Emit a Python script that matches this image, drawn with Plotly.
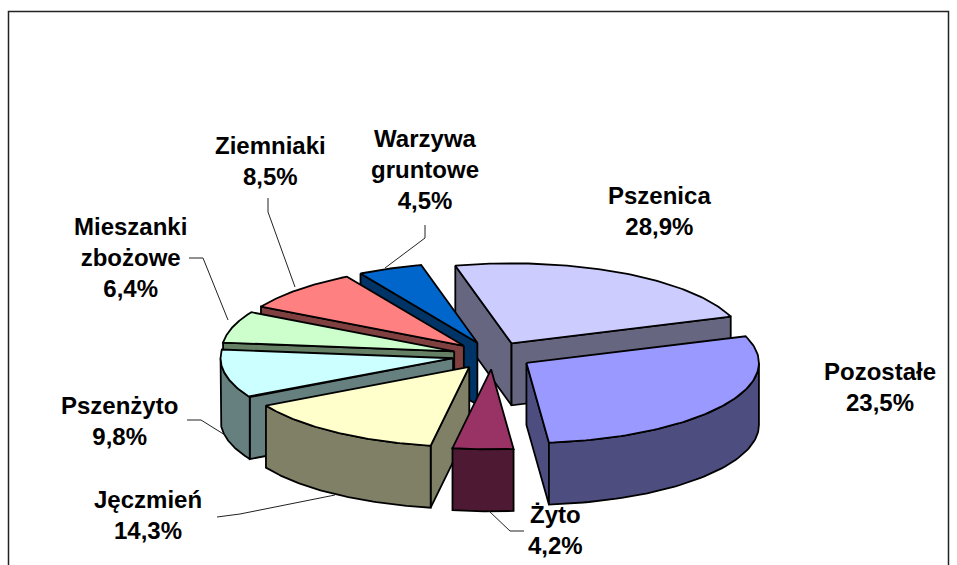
import math
import numpy as np
import plotly.graph_objects as go

# --- data ---
categories = ["Pszenica", "Pozostałe", "Żyto", "Jęczmień", "Pszenżyto",
              "Mieszanki zbożowe", "Ziemniaki", "Warzywa gruntowe"]
label_percent = [28.9, 23.5, 4.2, 14.3, 9.8, 6.4, 8.5, 4.5]
# the angular size of the first two slices in the picture is swapped relative to their labels
drawn_share = [23.5, 28.9, 4.2, 14.3, 9.8, 6.4, 8.5, 4.5]

# --- styles ---
top_colors = ["#CCCCFF", "#9999FF", "#993366", "#FFFFCC", "#CCFFFF", "#CCFFCC", "#FF8080", "#0066CC"]
side_colors = ["#666680", "#4D4D80", "#4D1933", "#808066", "#668080", "#668066", "#804040", "#003366"]
paint_order = [0, 7, 6, 5, 4, 3, 2, 1]

label_text = {
    "Pszenica": "Pszenica", "Pozostałe": "Pozostałe", "Żyto": "Żyto", "Jęczmień": "Jęczmień",
    "Pszenżyto": "Pszenżyto", "Mieszanki zbożowe": "Mieszanki<br>zbożowe",
    "Ziemniaki": "Ziemniaki", "Warzywa gruntowe": "Warzywa<br>gruntowe",
}
label_pos = {  # centre x, centre y of each text block
    "Pszenica": (659, 211), "Pozostałe": (880, 387), "Żyto": (555, 530), "Jęczmień": (148, 515),
    "Pszenżyto": (119, 421), "Mieszanki zbożowe": (130, 257), "Ziemniaki": (270, 161),
    "Warzywa gruntowe": (425, 169),
}
leaders = [
    ([268, 268, 295], [198, 212, 287]),
    ([425, 425, 385], [225, 238, 268]),
    ([189, 203, 228], [258, 258, 320]),
    ([187, 201, 225], [420, 420, 435]),
    ([217, 240, 335], [517, 514, 495]),
    ([489, 510, 524], [511, 531, 531]),
]

CX, CY, A, B, DEPTH, EXPLODE, START = 492.5, 355.5, 232.5, 80, 62, 0.173, -14.0


def ell(theta_deg, ox, oy):
    t = np.radians(theta_deg)
    return ox + A * np.sin(t), oy - B * np.cos(t)


fig = go.Figure()


def poly(xs, ys, color):
    fig.add_trace(go.Scatter(x=list(xs), y=list(ys), mode="lines", fill="toself", fillcolor=color,
                             line=dict(color="black", width=1.8), hoverinfo="skip", showlegend=False))


total = sum(drawn_share)
edges = [START]
for s in drawn_share:
    edges.append(edges[-1] + 360 * s / total)

for i in paint_order:
    t1, t2 = edges[i], edges[i + 1]
    mid = (t1 + t2) / 2
    ax, ay = ell(mid, CX, CY)
    ox = CX + EXPLODE * (ax - CX)
    oy = CY + EXPLODE * (ay - CY)
    sx1, sy1 = ell(t1, ox, oy)
    sx2, sy2 = ell(t2, ox, oy)
    if math.sin(math.radians(t1)) < 0:
        poly([ox, sx1, sx1, ox, ox], [oy, sy1, sy1 + DEPTH, oy + DEPTH, oy], side_colors[i])
    if math.sin(math.radians(t2)) > 0:
        poly([ox, sx2, sx2, ox, ox], [oy, sy2, sy2 + DEPTH, oy + DEPTH, oy], side_colors[i])
    lo, hi = max(t1, 90), min(t2, 270)
    if hi > lo:
        th = np.linspace(lo, hi, 60)
        rx, ry = ell(th, ox, oy)
        poly(np.r_[rx, rx[::-1], rx[0]], np.r_[ry, ry[::-1] + DEPTH, ry[0]], side_colors[i])
    th = np.linspace(t1, t2, 80)
    rx, ry = ell(th, ox, oy)
    poly(np.r_[ox, rx, ox], np.r_[oy, ry, oy], top_colors[i])

for lx, ly in leaders:
    fig.add_trace(go.Scatter(x=lx, y=ly, mode="lines", line=dict(color="#222222", width=1),
                             hoverinfo="skip", showlegend=False))

for name, pct in zip(categories, label_percent):
    x, y = label_pos[name]
    fig.add_annotation(x=x, y=y, text=f"<b>{label_text[name]}<br>{pct:.1f}%</b>".replace(".", ","),
                       showarrow=False, xanchor="center", yanchor="middle", align="center",
                       font=dict(family="Liberation Sans", size=24, color="black"))

fig.add_shape(type="path", path="M 8.5 570 L 8.5 11.5 L 948.5 11.5 L 948.5 570",
              line=dict(color="#222222", width=1.5), xref="x", yref="y")

fig.update_xaxes(range=[0, 957], visible=False, fixedrange=True)
fig.update_yaxes(range=[565, 0], visible=False, fixedrange=True)
fig.update_layout(width=957, height=565, margin=dict(l=0, r=0, t=0, b=0),
                  paper_bgcolor="white", plot_bgcolor="white", showlegend=False)
fig.write_html("out.html", config={"displayModeBar": False},
               post_script="document.body.style.margin='0';document.body.style.overflow='hidden';")
